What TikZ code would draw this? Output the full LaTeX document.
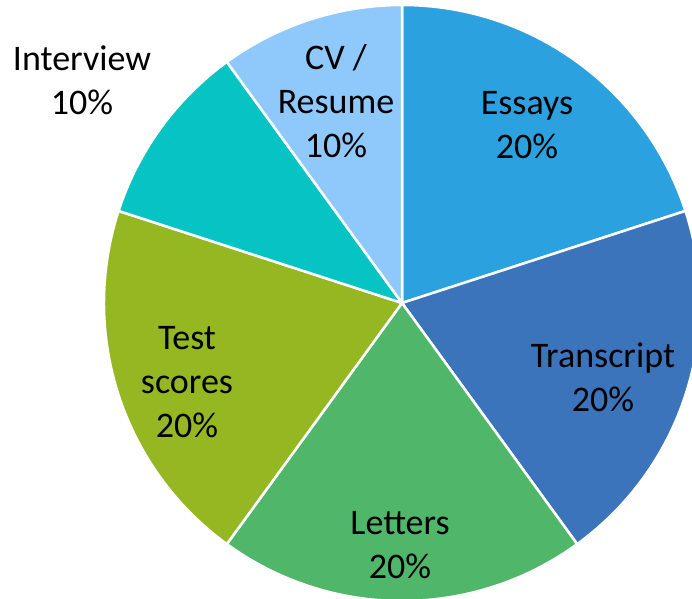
\documentclass[tikz,border=0pt]{standalone}
\usepackage{fontspec}
\setmainfont{Carlito}
\definecolor{essays}{HTML}{2CA1E0}
\definecolor{transcript}{HTML}{3C74BC}
\definecolor{letters}{HTML}{50B76A}
\definecolor{tests}{HTML}{94B722}
\definecolor{interview}{HTML}{06C3C4}
\definecolor{cv}{HTML}{8FC9FB}
\tikzset{sl/.style={fill=#1, draw=white, line width=2.5pt, line join=round}}
\tikzset{lb/.style={align=center, inner sep=0pt, font=\fontsize{36}{44}\selectfont}}

\begin{document}
\begin{tikzpicture}[x=1pt,y=1pt]
\useasboundingbox (0,0) rectangle (692,598);
\clip (0,0) rectangle (692,598);
\coordinate (c) at (402,295);
\filldraw[sl=essays] (c) -- ++(90:298) arc (90:18:298) -- cycle;
\filldraw[sl=transcript] (c) -- ++(18:298) arc (18:-54:298) -- cycle;
\filldraw[sl=letters] (c) -- ++(-54:298) arc (-54:-126:298) -- cycle;
\filldraw[sl=tests] (c) -- ++(-126:298) arc (-126:-198:298) -- cycle;
\filldraw[sl=interview] (c) -- ++(162:298) arc (162:126:298) -- cycle;
\filldraw[sl=cv] (c) -- ++(126:298) arc (126:90:298) -- cycle;
% labels
\node[lb] (essays) at (527,473) {Essays\\20\%};
\node[lb] (transcript) at (603,221) {Transcript\\20\%};
\node[lb] (letters) at (400,53) {Letters\\20\%};
\node[lb] (tests) at (187,216) {Test\\scores\\20\%};
\node[lb] (interview) at (82,518) {Interview\\10\%};
\node[lb] (cv) at (336,497) {CV /\\Resume\\10\%};
\end{tikzpicture}
\end{document}
